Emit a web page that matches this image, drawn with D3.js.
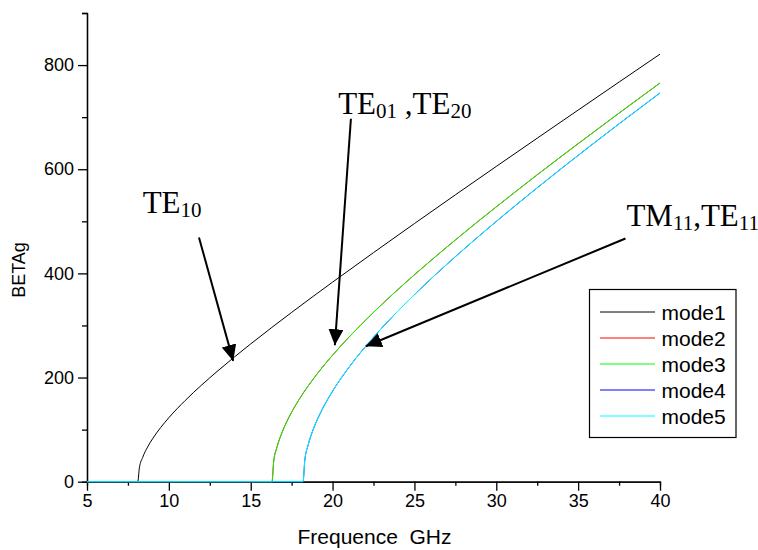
<!DOCTYPE html>
<html>
<head>
<meta charset="utf-8">
<script src="https://cdn.jsdelivr.net/npm/d3@7"></script>
<style>
  body { margin: 0; background: #fff; }
  svg { display: block; }
  .tick text { font-family: "Liberation Sans", Arial, sans-serif; font-size: 18px; fill: #000; }
  .ann { font-family: "Liberation Serif", "Times New Roman", serif; font-size: 31px; fill: #000; }
</style>
</head>
<body>
<svg width="758" height="550"></svg>
<script>
const width = 758;
const height = 550;

// values (GHz, BETAg)
const freq1 = [5, 8.1, 8.2, 8.4, 8.7, 9, 9.5, 10, 11, 12, 13, 14, 15, 17.5, 20, 22.5, 25, 27.5, 30, 32.5, 35, 37.5, 40];
const beta1 = [0, 0, 26.8, 46.6, 66.5, 82.2, 104, 122.9, 156, 185.6, 213.1, 239.3, 264.6, 325.1, 383.2, 439.9, 495.7, 550.8, 605.4, 659.6, 713.6, 767.4, 821];

const freq23 = [5, 16.3, 16.4, 16.6, 16.9, 17.3, 18, 19, 20, 21, 22.5, 25, 27.5, 30, 32.5, 35, 37.5, 40];
const beta23 = [0, 0, 37.9, 65.8, 93.5, 121.5, 160, 204.6, 242.9, 277.5, 325.1, 397.3, 464.2, 527.8, 589.3, 649.1, 707.8, 765.6];

const freq45 = [5, 18.2, 18.3, 18.5, 18.8, 19.2, 20, 21, 22.5, 25, 27.5, 30, 32.5, 35, 37.5, 40];
const beta45 = [0, 0, 40, 69.5, 98.8, 128.2, 173.8, 219.6, 277.3, 359.2, 432.1, 499.8, 564.3, 626.6, 687.2, 746.5];

const modeNames = ['mode1', 'mode2', 'mode3', 'mode4', 'mode5'];
const modeColors = ['#000000', '#ff0000', '#00ff00', '#0000ff', '#00ffff'];
const xTicks = [5, 10, 15, 20, 25, 30, 35, 40];
const yTicks = [0, 200, 400, 600, 800];

const series = [
  {name: 'mode1', f: freq1, b: beta1},
  {name: 'mode2', f: freq23, b: beta23},
  {name: 'mode3', f: freq23, b: beta23},
  {name: 'mode4', f: freq45, b: beta45},
  {name: 'mode5', f: freq45, b: beta45}
];

const margin = {top: 13, right: 98, bottom: 68.3, left: 87};
const innerWidth = width - margin.left - margin.right;
const innerHeight = height - margin.top - margin.bottom;

const svg = d3.select('svg');
const g = svg.append('g')
  .attr('transform', 'translate(' + margin.left + ',' + margin.top + ')');

const xScale = d3.scaleLinear().domain([5, 40]).range([0, innerWidth]);
const yScale = d3.scaleLinear().domain([0, 900]).range([innerHeight, 0]);

const color = d3.scaleOrdinal().domain(modeNames).range(modeColors);

// minor ticks
g.append('g')
  .attr('transform', 'translate(0,' + innerHeight + ')')
  .call(d3.axisBottom(xScale).tickValues(d3.range(7.5, 40, 5)).tickSize(4).tickFormat(''));
g.append('g')
  .call(d3.axisLeft(yScale).tickValues(d3.range(100, 901, 200)).tickSize(5).tickFormat(''));

const xAxisG = g.append('g')
  .attr('transform', 'translate(0,' + innerHeight + ')')
  .call(d3.axisBottom(xScale).tickValues(xTicks).tickSize(9).tickPadding(4).tickSizeOuter(0));
g.append('g')
  .call(d3.axisLeft(yScale).tickValues(yTicks).tickSize(9).tickPadding(4).tickSizeOuter(0));

g.selectAll('.domain').attr('stroke', '#000').attr('stroke-width', 1.3);
g.selectAll('.tick line').attr('stroke', '#000').attr('stroke-width', 1.3);

xAxisG.append('text')
  .text('Frequence\u00a0\u00a0GHz')
  .attr('x', (xScale(20) + xScale(25)) / 2 + 1)
  .attr('y', 62)
  .attr('fill', '#000')
  .attr('text-anchor', 'middle')
  .style('font-family', '"Liberation Sans", Arial, sans-serif')
  .style('font-size', '21px');

svg.append('text')
  .text('BETAg')
  .attr('transform', 'translate(25,270) rotate(-90)')
  .attr('text-anchor', 'middle')
  .style('font-family', '"Liberation Sans", Arial, sans-serif')
  .style('font-size', '18px');

const line = d3.line()
  .x(d => xScale(d[0]))
  .y(d => yScale(d[1]))
  .curve(d3.curveMonotoneX);

g.selectAll('.mode')
  .data(series)
  .enter()
  .append('path')
  .attr('class', 'mode')
  .attr('fill', 'none')
  .attr('stroke', d => color(d.name))
  .attr('stroke-width', 1)
  .attr('d', d => line(d.f.map((f, i) => [f, d.b[i]])));

// annotations
svg.append('defs').append('marker')
  .attr('id', 'head')
  .attr('viewBox', '0 0 16 15')
  .attr('refX', 16)
  .attr('refY', 7.5)
  .attr('markerWidth', 16)
  .attr('markerHeight', 15)
  .attr('markerUnits', 'userSpaceOnUse')
  .attr('orient', 'auto')
  .append('path')
  .attr('d', 'M0,0L16,7.5L0,15Z')
  .attr('fill', '#000');

const arrows = [
  {from: [11.84, 469], to: [13.93, 232]},
  {from: [21.12, 697], to: [20.14, 262]},
  {from: [37.89, 467], to: [22.03, 260]}
];

g.selectAll('.arrow')
  .data(arrows)
  .enter()
  .append('line')
  .attr('class', 'arrow')
  .attr('x1', d => xScale(d.from[0]))
  .attr('y1', d => yScale(d.from[1]))
  .attr('x2', d => xScale(d.to[0]))
  .attr('y2', d => yScale(d.to[1]))
  .attr('stroke', '#000')
  .attr('stroke-width', 2)
  .attr('marker-end', 'url(#head)');

const labels = [
  {at: [8.4, 515], parts: [['TE', 0], ['10', 1]]},
  {at: [20.34, 707], parts: [['TE', 0], ['01', 1], ['\u00a0,TE', 0], ['20', 1]]},
  {at: [37.95, 491], parts: [['TM', 0], ['11', 1], [',TE', 0], ['11', 1]]}
];

labels.forEach(l => {
  const t = g.append('text')
    .attr('class', 'ann')
    .attr('x', xScale(l.at[0]))
    .attr('y', yScale(l.at[1]));
  let shift = 0;
  l.parts.forEach(p => {
    const target = p[1] ? 4 : 0;
    t.append('tspan')
      .text(p[0])
      .attr('dy', target - shift)
      .style('font-size', p[1] ? '21px' : '31px');
    shift = target;
  });
});

// legend
const legend = svg.append('g').attr('transform', 'translate(589.5,289.5)');
legend.append('rect')
  .attr('width', 146.5)
  .attr('height', 148)
  .attr('fill', '#fff')
  .attr('stroke', '#000')
  .attr('stroke-width', 1.2);

const items = legend.selectAll('.item')
  .data(modeNames)
  .enter()
  .append('g')
  .attr('transform', (d, i) => 'translate(0,' + (22.5 + i * 26) + ')');
items.append('line')
  .attr('x1', 10.5)
  .attr('x2', 65.5)
  .attr('stroke', d => color(d))
  .attr('stroke-width', 1);
items.append('text')
  .text(d => d)
  .attr('x', 72)
  .attr('dy', '0.36em')
  .style('font-family', '"Liberation Sans", Arial, sans-serif')
  .style('font-size', '21px');
</script>
</body>
</html>
